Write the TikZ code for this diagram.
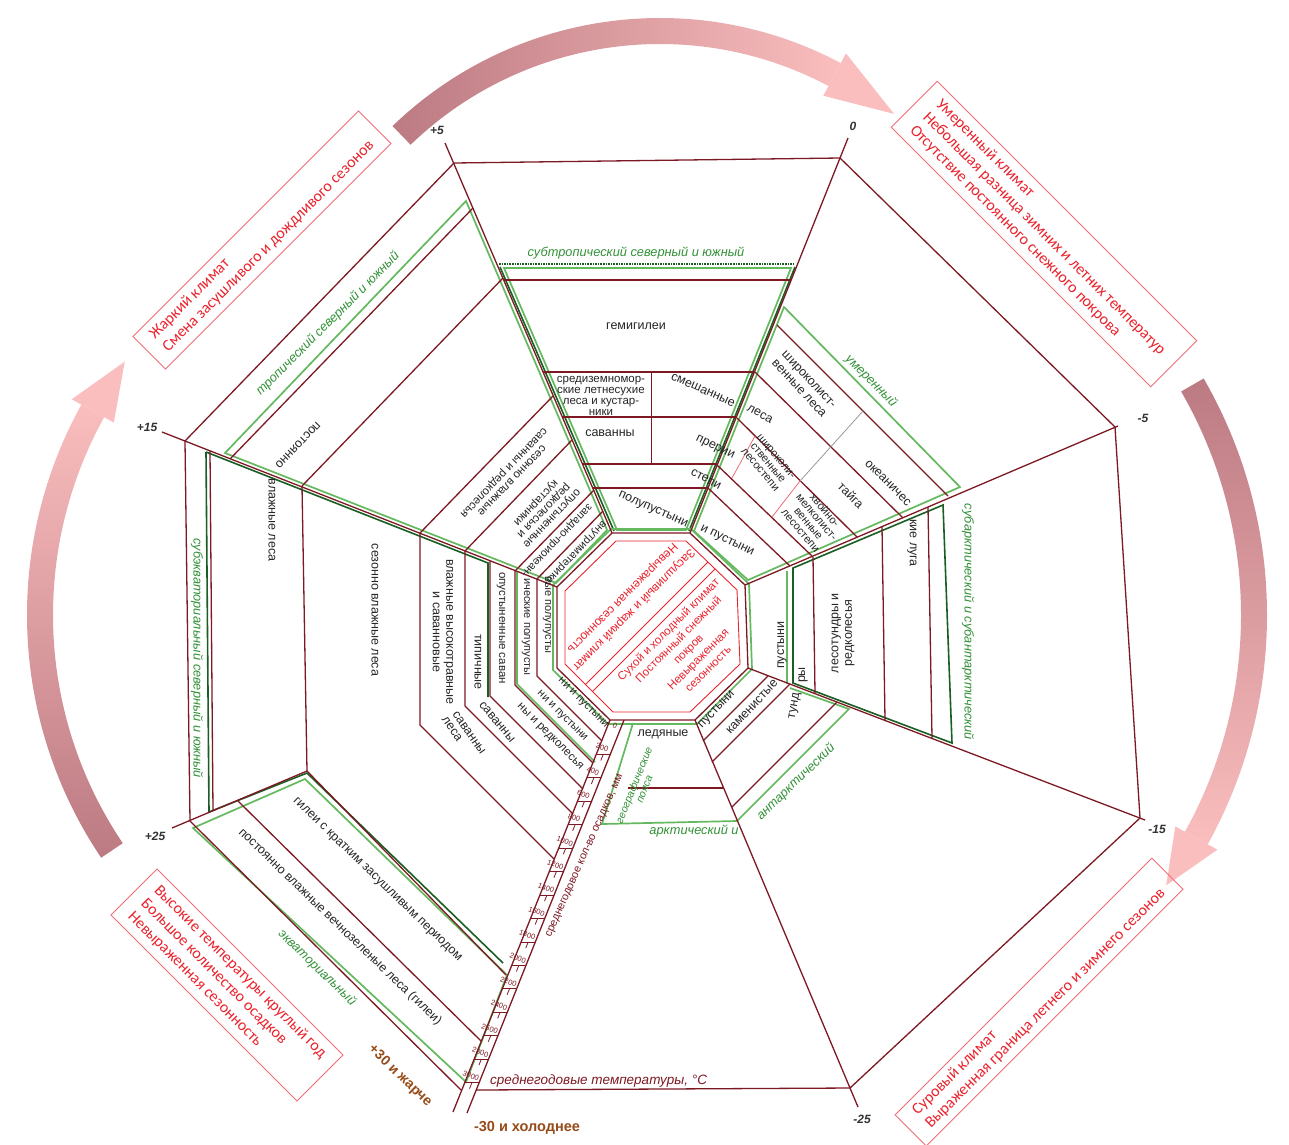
\documentclass[tikz,border=0pt]{standalone}
\usepackage{fontspec}
\setmainfont{Liberation Sans}
\newfontfamily\cboxfont{Carlito}
\definecolor{lred}{RGB}{125,25,35}
\definecolor{lgr}{RGB}{100,185,95}
\definecolor{dgr}{RGB}{25,95,35}
\definecolor{grtxt}{RGB}{50,145,55}
\definecolor{bxred}{RGB}{240,110,120}
\definecolor{txred}{RGB}{235,35,45}
\definecolor{brn}{RGB}{150,75,25}
\definecolor{arrD}{RGB}{188,122,130}
\definecolor{arrL}{RGB}{250,190,190}
\begin{document}
\begin{tikzpicture}[x=1pt,y=-1pt,
 ln/.style={draw=lred,line width=1.3pt},
 gl/.style={draw=lgr,line width=1.7pt},
 dg/.style={draw=dgr,line width=1.6pt},
 lbl/.style={font=\fontsize{12.5}{13.5}\selectfont,text=black!85,inner sep=0pt,align=center},
 sml/.style={font=\fontsize{11.5}{11}\selectfont,text=black!85,inner sep=0pt,align=center},
 grl/.style={font=\fontsize{12.8}{13.5}\selectfont\itshape,text=grtxt,inner sep=0pt,align=center},
 tmp/.style={font=\fontsize{12}{13}\selectfont\bfseries\itshape,text=black!80,inner sep=0pt},
 cbox/.style={draw=bxred,line width=0.9pt,text=txred,font=\cboxfont\fontsize{16}{18.5}\selectfont,align=left,inner xsep=8pt,inner ysep=3pt},
 ctr/.style={text=txred,align=center,inner sep=0pt},
 tickln/.style={draw=lred,line width=0.8pt},
 ticklbl/.style={font=\fontsize{7.5}{8}\selectfont,text=lred,inner sep=0pt,rotate=-20},
]
\useasboundingbox (0,0) rectangle (1289,1144);
\fill[white] (0,0) rectangle (1289,1144);

% ---------- big arrows ----------
\shade[left color=arrD,right color=arrL] ([shift={(660,403)}]-134:385) arc[start angle=-134,end angle=-62,radius=385] -- ([shift={(660,403)}]-62:359) arc[start angle=-62,end angle=-134,radius=359] -- cycle;
\fill[arrL] ([shift={(660,403)}]-62:348) -- ([shift={(660,403)}]-62:396) -- ([shift={(660,403)}]-51:372) -- cycle;
\shade[top color=arrD,bottom color=arrL] ([shift={(794,615)}]-30:473) arc[start angle=-30,end angle=29,radius=473] -- ([shift={(794,615)}]29:447) arc[start angle=29,end angle=-30,radius=447] -- cycle;
\fill[arrL] ([shift={(794,615)}]29:436) -- ([shift={(794,615)}]29:484) -- ([shift={(794,615)}]36:460) -- cycle;
\shade[bottom color=arrD,top color=arrL] ([shift={(461,615)}]-214:434) arc[start angle=-214,end angle=-151,radius=434] -- ([shift={(461,615)}]-151:408) arc[start angle=-151,end angle=-214,radius=408] -- cycle;
\fill[arrL] ([shift={(461,615)}]-151:397) -- ([shift={(461,615)}]-151:445) -- ([shift={(461,615)}]-143:421) -- cycle;

% ---------- green frames ----------
\draw[gl] (504,268) -- (791,268) -- (686,530) -- (617,530) -- cycle;
\draw[dg,densely dotted] (499,264) -- (795,264);
\draw[dg] (500,267) -- (614,531);
\draw[dg] (795,267) -- (689,531);
\draw[gl] (784,307) -- (960,487) -- (748,580) -- (694,531) -- cycle;
\draw[dg] (793,568) -- (943,505) -- (952,743) -- (793,683) -- cycle;
\draw[gl] (787,571) -- (787,684);
\draw[gl] (633,723) -- (602,824) -- (737,821) -- (849,709) -- (790,688);
\draw[dg] (206,452) -- (488,563) -- (488,697);
\draw[dg] (206,452) -- (209,812) -- (307,773) -- (503,963);
\draw[gl] (225,453) -- (466,201) -- (607,530) -- (556,583) -- cycle;
\draw[gl] (517,572) -- (517,684) -- (595,762);
\draw[gl] (193,828) -- (305,779) -- (507,975) -- (466,1082) -- cycle;
\draw[gl] (611,529) -- (691,529) -- (749,584) -- (752,669) -- (697,724) -- (608,724) -- (553,670) -- (553,585) -- cycle;

% ---------- outer polygon & radials ----------
\draw[ln] (476,1090) -- (850,1088) -- (1140,818) -- (1115,427) -- (840,158) -- (454,163) -- (185,441) -- (190,821) -- (461,1090);
\draw[ln] (612,533) -- (445,143);
\draw[ln] (690,533) -- (848,138);
\draw[ln] (745,585) -- (1118,426);
\draw[ln] (748,668) -- (1145,820);
\draw[ln] (695,720) -- (858,1107);
\draw[ln] (307,771) -- (172,828);
\draw[ln] (557,587) -- (162,432);

% centre octagon
\draw[ln] (612,533) -- (690,533) -- (745,585) -- (748,668) -- (695,720) -- (610,720) -- (557,668) -- (557,587) -- cycle;
\draw[txred,line width=0.9pt] (616,541) -- (686,541) -- (737,590) -- (740,664) -- (690,712) -- (613,712) -- (565,664) -- (565,591) -- cycle;
\draw[txred,line width=0.8pt] (585.5,684.5) -- (708,562);
\draw[txred,line width=0.8pt] (592.5,691.5) -- (715,569);

% top sector bands
\draw[ln] (504,280) -- (791,280);
\draw[ln] (543,372) -- (754,372);
\draw[ln] (562,417) -- (736,417);
\draw[ln] (582,464) -- (718,464);
\draw[ln] (593,488) -- (708,488);
\draw[ln,line width=0.9pt] (651,372) -- (651,464);

% top-right bands
\draw[ln] (777,325) -- (948,496);
\draw[ln] (755,372) -- (903,518);
\draw[ln] (737,418) -- (857,537);
\draw[ln] (717,465) -- (812,556);
\draw[ln] (708,488) -- (790,566);
\draw[gray!80,line width=0.8pt] (863,411) -- (800,481);
\draw[bxred,line width=0.8pt] (800,481) -- (772,517);
\draw[bxred,line width=0.8pt] (755,436) -- (732,478);

% right sector
\draw[ln] (813,557) -- (815,693);
\draw[ln] (882,527) -- (885,720);
\draw[ln] (928,507) -- (932,738);

% arctic
\draw[ln] (703,741) -- (768,676);
\draw[ln] (712,762) -- (790,684);
\draw[ln] (732,807) -- (837,702);
\draw[ln] (628,788) -- (724,788);

% left & bottom-left
\draw[ln] (210,451) -- (213,811);
\draw[ln] (302,486) -- (307,771) -- (506,975);
\draw[ln] (420,533) -- (420,725) -- (554,859);
\draw[ln] (465,551) -- (465,706) -- (573,814);
\draw[ln] (490,561) -- (490,696) -- (583,789);
\draw[ln] (515,571) -- (515,685) -- (593,763);
\draw[ln] (537,579) -- (537,676) -- (602,741);
\draw[ln] (238,801) -- (481,1041);

% top-left
\draw[ln] (230,459) -- (473,208);
\draw[ln] (302,486) -- (503,278);
\draw[ln] (420,533) -- (553,396);
\draw[ln] (465,551) -- (572,440);
\draw[ln] (515,571) -- (594,490);
\draw[ln] (537,579) -- (603,511);

% precipitation axis
\draw[ln] (610,720) -- (453,1112);
\draw[ln] (624,720) -- (467,1113);
\foreach \v in {200,400,...,3000}{
  \pgfmathsetmacro\yy{731+0.1172*\v}
  \pgfmathsetmacro\xa{610-0.4*(\yy-720)}
  \pgfmathsetmacro\xb{624-0.4*(\yy-720)}
  \pgfmathsetmacro\xm{0.5*(\xa+\xb)}
  \draw[tickln] (\xa,\yy) -- (\xb,\yy);
  \draw[tickln] (\xm,\yy) -- (\xm-2.4,\yy+6);
  \node[ticklbl] (p\v) at (\xm-1,\yy-7) {\v};
}
\node[ticklbl] (p0) at (615,726) {0};

% ---------- temperature labels ----------
\node[tmp] (tp5) at (437,130) {+5};
\node[tmp] (t0) at (853,126) {0};
\node[tmp] (tm5) at (1143,418) {-5};
\node[tmp] (tm15) at (1157,829) {-15};
\node[tmp] (tm25) at (862,1119) {-25};
\node[tmp] (tp25) at (155,836) {+25};
\node[tmp] (tp15) at (147,427) {+15};

% ---------- belt labels (green) ----------
\node[grl] (gA) at (636,253) {субтропический северный и южный};
\node[grl,rotate=-45] (gB) at (871,381) {умеренный};
\node[grl,rotate=-90] (gC) at (968,622) {субарктический и субантарктический};
\node[grl] (gD) at (694,831) {арктический и};
\node[grl,rotate=44] (gE) at (796,782) {антарктический};
\node[grl,rotate=-44] (gF) at (317,968) {экваториальный};
\node[grl,rotate=-90] (gG) at (197,658) {субэкваториальный северный и южный};
\node[grl,rotate=45] (gH) at (328,324) {тропический северный и южный};
\node[grl,rotate=68,font=\fontsize{10.5}{11}\selectfont\itshape] (gI) at (639,787) {географические\\пояса};

% ---------- zone labels ----------
\node[lbl] (z1) at (636,326) {гемигилеи};
\node[sml] (z2) at (601,396) {средиземномор-\\ские летнесухие\\леса и кустар-\\ники};
\node[lbl,rotate=-24] (z3) at (703,390) {смешанные};
\node[lbl,rotate=-28] (z4) at (760,414) {леса};
\node[lbl] (z5) at (610,433) {саванны};
\node[lbl,rotate=-26] (z6) at (715,448) {прерии};
\node[lbl,rotate=-28] (z7) at (706,479) {степи};
\node[lbl,rotate=-24] (z8) at (653,510) {полупустыни};
\node[lbl,rotate=-26] (z9) at (727,541) {и пустыни};

\node[lbl,rotate=-47] (z10) at (804,384) {широколист-\\венные леса};
\node[lbl,rotate=-45] (z11) at (888,483) {океаничес};
\node[lbl,rotate=-45] (z12) at (851,495) {тайга};
\node[sml,rotate=-50,font=\fontsize{11}{10.5}\selectfont] (z13) at (768,463) {широколи-\\ственные\\лесостепи};
\node[sml,rotate=-50,font=\fontsize{11}{10.5}\selectfont] (z14) at (813,520) {хвойно-\\мелколист-\\венные\\лесостепи};

\node[lbl,rotate=-90] (z15) at (912,543) {кие луга};
\node[lbl,rotate=90] (z16) at (843,633) {лесотундры и\\редколесья};
\node[lbl,rotate=90] (z17) at (803,675) {ры};
\node[lbl,rotate=80] (z18) at (795,706) {тунд};
\node[lbl,rotate=90] (z19) at (782,645) {пустыни};

\node[lbl,rotate=47] (z20) at (717,710) {пустыни};
\node[lbl,rotate=47] (z21) at (752,707) {каменистые};
\node[lbl] (z22) at (663,734) {ледяные};

\node[lbl,rotate=-44] (z23) at (377,880) {гилеи с кратким засушливым периодом};
\node[lbl,rotate=-44] (z24) at (340,927) {постоянно влажные вечнозеленые леса (гилеи)};

\node[lbl,rotate=-90] (z25) at (272,520) {влажные леса};
\node[lbl,rotate=226] (z26) at (298,445) {постоянно};
\node[lbl,rotate=-90] (z27) at (375,610) {сезонно влажные леса};
\node[lbl,rotate=-90] (z28) at (443,632) {влажные высокотравные\\и саванновые};
\node[lbl,rotate=-55] (z29) at (469,733) {саванны};
\node[lbl,rotate=-55] (z30) at (452,729) {леса};
\node[lbl,rotate=-90] (z31) at (478,662) {типичные};
\node[lbl,rotate=-50] (z32) at (497,722) {саванны};
\node[lbl,rotate=-90,font=\fontsize{11.5}{12}\selectfont] (z33) at (501,628) {опустыненные саван};
\node[lbl,rotate=-45,font=\fontsize{11.5}{12}\selectfont] (z34) at (550,737) {ны и редколесья};
\node[lbl,rotate=-90,font=\fontsize{11}{12}\selectfont] (z35) at (526,627) {ические полупусты};
\node[lbl,rotate=-45,font=\fontsize{11}{12}\selectfont] (z36) at (562,716) {ни и пустыни};
\node[lbl,rotate=-90,font=\fontsize{11}{12}\selectfont] (z37) at (547,615) {вые полупусты};
\node[lbl,rotate=-45,font=\fontsize{11}{12}\selectfont] (z38) at (583,703) {ни и пустыни};

\node[sml,rotate=226] (z39) at (507,476) {сезонно влажные\\саванны и редколесья};
\node[sml,rotate=226] (z40) at (543,510) {опустыненные\\редколесья и\\кустарники};
\node[sml,rotate=226,font=\fontsize{11}{11}\selectfont] (z41) at (556,540) {западно-приокеан-};
\node[sml,rotate=226,font=\fontsize{11}{11}\selectfont] (z42) at (574,553) {внутриматерико-};

% ---------- centre texts ----------
\node[ctr,rotate=225,font=\fontsize{12}{16}\selectfont] (c1) at (628,604) {Засушливый и жаркий климат\\Невыраженная сезонность};
\node[ctr,rotate=45,font=\fontsize{11.5}{14}\selectfont] (c2) at (688,649) {Сухой и холодный климат\\Постоянный снежный\\покров\\Невыраженная\\сезонность};

% ---------- axis texts ----------
\node[rotate=66,font=\fontsize{11}{12}\selectfont,text=lred,inner sep=0pt] (ax1) at (585,856) {среднегодовое кол-во осадков, мм};
\node[anchor=west,font=\fontsize{13.5}{14}\selectfont\itshape,text=lred,inner sep=0pt] (ax2) at (490,1081) {среднегодовые температуры, °C};
\node[font=\fontsize{14.5}{15}\selectfont\bfseries,text=brn,inner sep=0pt] (ax3) at (527,1128) {-30 и холоднее};
\node[rotate=-44,font=\fontsize{14}{15}\selectfont\bfseries,text=brn,inner sep=0pt] (ax4) at (400,1076) {+30 и жарче};

% ---------- climate boxes ----------
\node[cbox,rotate=45,minimum width=319pt,minimum height=46pt] (b1) at (262,240) {Жаркий климат\\Смена засушливого и дождливого сезонов};
\node[cbox,rotate=-45,minimum width=367pt,minimum height=65pt] (b2) at (1044,234) {Умеренный климат\\Небольшая разница зимних и летних температур\\Отсутствие постоянного снежного покрова};
\node[cbox,rotate=-45,minimum width=263pt,minimum height=65pt] (b3) at (227,985) {Высокие температуры круглый год\\Большое количество осадков\\Невыраженная сезонность};
\node[cbox,rotate=45,minimum width=363pt,minimum height=44pt] (b4) at (1039,1002) {Суровый климат\\Выраженная граница летнего и зимнего сезонов};
\end{tikzpicture}
\end{document}
